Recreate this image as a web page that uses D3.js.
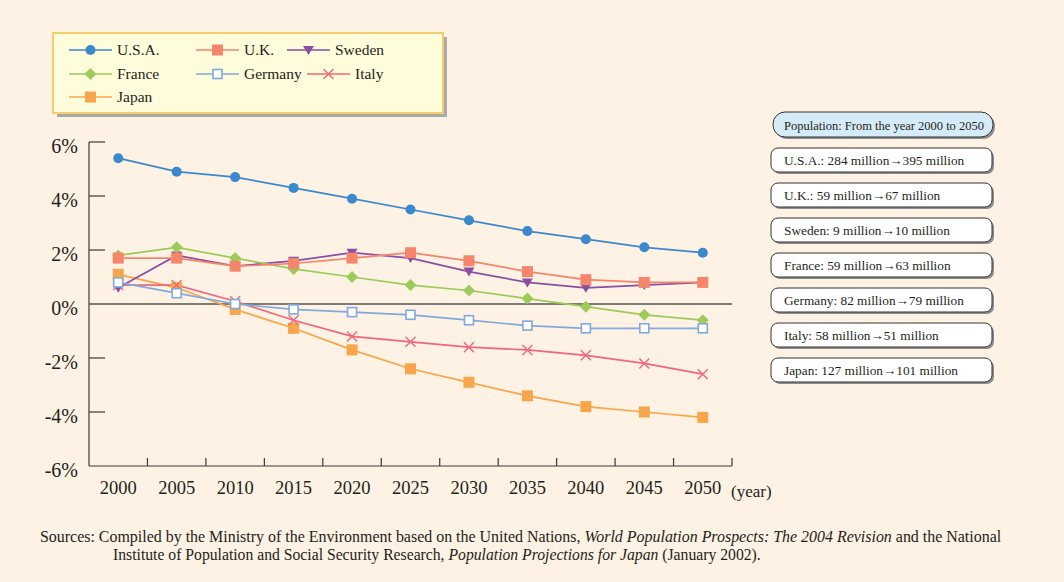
<!DOCTYPE html>
<html>
<head>
<meta charset="utf-8">
<script src="https://cdn.jsdelivr.net/npm/d3@7"></script>
<style>
  html, body { margin: 0; padding: 0; background: #fdf2e3; }
  svg { display: block; font-family: "Liberation Serif", "Times New Roman", serif; }
</style>
</head>
<body>
<svg id="chart" width="1064" height="582"></svg>
<script>
const years = [2000, 2005, 2010, 2015, 2020, 2025, 2030, 2035, 2040, 2045, 2050]
const yTicks = [-6, -4, -2, 0, 2, 4, 6]

const usa = [5.4, 4.9, 4.7, 4.3, 3.9, 3.5, 3.1, 2.7, 2.4, 2.1, 1.9]
const uk = [1.7, 1.7, 1.4, 1.5, 1.7, 1.9, 1.6, 1.2, 0.9, 0.8, 0.8]
const sweden = [0.6, 1.8, 1.4, 1.6, 1.9, 1.7, 1.2, 0.8, 0.6, 0.7, 0.8]
const france = [1.8, 2.1, 1.7, 1.3, 1.0, 0.7, 0.5, 0.2, -0.1, -0.4, -0.6]
const germany = [0.8, 0.4, 0.0, -0.2, -0.3, -0.4, -0.6, -0.8, -0.9, -0.9, -0.9]
const italy = [0.7, 0.7, 0.1, -0.6, -1.2, -1.4, -1.6, -1.7, -1.9, -2.2, -2.6]
const japan = [1.1, 0.6, -0.2, -0.9, -1.7, -2.4, -2.9, -3.4, -3.8, -4.0, -4.2]

const popTitle = 'Population: From the year 2000 to 2050'
const popNotes = [
    'U.S.A.: 284 million\u2192395 million',
    'U.K.: 59 million\u219267 million',
    'Sweden: 9 million\u219210 million',
    'France: 59 million\u219263 million',
    'Germany: 82 million\u219279 million',
    'Italy: 58 million\u219251 million',
    'Japan: 127 million\u2192101 million'
]

const series = [
    { name: 'Japan', values: japan, color: '#f8a64c', marker: 'square' },
    { name: 'Italy', values: italy, color: '#f0677c', marker: 'cross' },
    { name: 'Sweden', values: sweden, color: '#8a4ea3', marker: 'tri' },
    { name: 'France', values: france, color: '#9ccb5c', marker: 'diamond' },
    { name: 'U.K.', values: uk, color: '#f5856b', marker: 'square' },
    { name: 'Germany', values: germany, color: '#80aadd', marker: 'open' },
    { name: 'U.S.A.', values: usa, color: '#3b88cd', marker: 'circle' }
]

const svg = d3.select('#chart')

const plotLeft = 89, plotRight = 732, plotTop = 142, plotBottom = 466

const x = d3.scalePoint().domain(years).range([plotLeft, plotRight]).padding(0.5)
const xb = d3.scaleBand().domain(years).range([plotLeft, plotRight])
const y = d3.scaleLinear().domain([-6, 6]).range([plotBottom, plotTop])

// markers
function drawMarker(g, type, color) {
    if (type === 'circle') {
        g.append('circle').attr('r', 5).attr('fill', color)
    } else if (type === 'square') {
        g.append('rect').attr('x', -5.5).attr('y', -5.5).attr('width', 11).attr('height', 11).attr('fill', color)
    } else if (type === 'open') {
        g.append('rect').attr('x', -4.5).attr('y', -4.5).attr('width', 9).attr('height', 9)
            .attr('fill', '#fff').attr('stroke', color).attr('stroke-width', 1.6)
    } else if (type === 'diamond') {
        g.append('path').attr('d', 'M0,-6L6,0L0,6L-6,0Z').attr('fill', color)
    } else if (type === 'tri') {
        g.append('path').attr('d', 'M-5.5,-4L5.5,-4L0,5Z').attr('fill', color)
    } else if (type === 'cross') {
        g.append('path').attr('d', 'M-5,-5L5,5M-5,5L5,-5').attr('stroke', color).attr('stroke-width', 1.4)
    }
}

// axes
const axisG = svg.append('g').attr('stroke', '#3a3a3a').attr('stroke-width', 1.2)
axisG.append('line').attr('x1', plotLeft).attr('x2', plotLeft).attr('y1', plotTop).attr('y2', plotBottom)
axisG.append('line').attr('x1', plotLeft).attr('x2', plotRight).attr('y1', plotBottom).attr('y2', plotBottom)

axisG.selectAll('.yt')
    .data(yTicks.filter((d) => d !== 0 && d !== -6))
    .join('line')
    .attr('x1', plotLeft).attr('x2', plotLeft + 16)
    .attr('y1', (d) => y(d)).attr('y2', (d) => y(d))

axisG.selectAll('.xt')
    .data(years.slice(1).map((d) => xb(d)).concat([plotRight]))
    .join('line')
    .attr('x1', (d) => d).attr('x2', (d) => d)
    .attr('y1', plotBottom).attr('y2', plotBottom - 8)

svg.append('line')
    .attr('x1', plotLeft).attr('x2', plotRight)
    .attr('y1', y(0)).attr('y2', y(0))
    .attr('stroke', '#555').attr('stroke-width', 1.5)

svg.append('g')
    .selectAll('text')
    .data(yTicks)
    .join('text')
    .attr('x', 78)
    .attr('y', (d) => y(d) + 11)
    .attr('text-anchor', 'end')
    .attr('font-size', 20)
    .attr('fill', '#231f20')
    .text((d) => d + '%')

svg.append('g')
    .selectAll('text')
    .data(years)
    .join('text')
    .attr('x', (d) => x(d))
    .attr('y', 494)
    .attr('text-anchor', 'middle')
    .attr('font-size', 18.5)
    .attr('fill', '#231f20')
    .text((d) => d)

svg.append('text')
    .attr('x', 731).attr('y', 497)
    .attr('font-size', 17)
    .attr('fill', '#231f20')
    .text('(year)')

// lines
const line = d3.line().x((d, i) => x(years[i])).y((d) => y(d))

series.forEach((s) => {
    svg.append('path')
        .attr('d', line(s.values))
        .attr('fill', 'none')
        .attr('stroke', s.color)
        .attr('stroke-width', 1.7)
})
series.forEach((s) => {
    s.values.forEach((v, i) => {
        const g = svg.append('g').attr('transform', `translate(${x(years[i])},${y(v)})`)
        drawMarker(g, s.marker, s.color)
    })
})

// legend
svg.append('rect').attr('x', 57).attr('y', 37).attr('width', 390).attr('height', 80).attr('fill', '#a9aba9')
svg.append('rect').attr('x', 53).attr('y', 33).attr('width', 390).attr('height', 80)
    .attr('fill', '#fffcdb').attr('stroke', '#f6cd6c').attr('stroke-width', 2)

const legendItems = [
    { name: 'U.S.A.', lx: 69, ty: 50 },
    { name: 'U.K.', lx: 196, ty: 50 },
    { name: 'Sweden', lx: 287, ty: 50 },
    { name: 'France', lx: 69, ty: 74 },
    { name: 'Germany', lx: 196, ty: 74 },
    { name: 'Italy', lx: 307, ty: 74 },
    { name: 'Japan', lx: 69, ty: 97 }
]
legendItems.forEach((it) => {
    const s = series.find((d) => d.name === it.name)
    const g = svg.append('g')
    g.append('line').attr('x1', it.lx).attr('x2', it.lx + 43)
        .attr('y1', it.ty).attr('y2', it.ty)
        .attr('stroke', s.color).attr('stroke-width', 1.6)
    const m = g.append('g').attr('transform', `translate(${it.lx + 21.5},${it.ty})`)
    drawMarker(m, s.marker, s.color)
    g.append('text').attr('x', it.lx + 48).attr('y', it.ty + 5)
        .attr('font-size', 15.5).attr('fill', '#231f20').text(it.name)
})

// population boxes
svg.append('rect').attr('x', 775).attr('y', 114).attr('width', 220).attr('height', 25)
    .attr('rx', 12).attr('fill', '#8e8e8e')
svg.append('rect').attr('x', 773).attr('y', 112).attr('width', 220).attr('height', 25)
    .attr('rx', 12).attr('fill', '#d5ecf8').attr('stroke', '#333').attr('stroke-width', 1)
svg.append('text').attr('x', 784).attr('y', 129.5).attr('font-size', 12.5)
    .attr('fill', '#231f20').text(popTitle)

const boxes = svg.append('g')
    .selectAll('g')
    .data(popNotes)
    .join('g')
    .attr('transform', (d, i) => `translate(771,${148 + i * 35})`)
boxes.append('rect').attr('x', 2).attr('y', 2).attr('width', 221).attr('height', 24)
    .attr('rx', 7).attr('fill', '#8e8e8e')
boxes.append('rect').attr('width', 221).attr('height', 24)
    .attr('rx', 7).attr('fill', '#fff').attr('stroke', '#333').attr('stroke-width', 1)
boxes.append('text').attr('x', 13).attr('y', 17).attr('font-size', 13.3)
    .attr('fill', '#231f20').text((d) => d)

// sources
const src1 = svg.append('text').attr('x', 40).attr('y', 542).attr('font-size', 15.95).attr('fill', '#231f20')
src1.append('tspan').text('Sources: Compiled by the Ministry of the Environment based on the United Nations, ')
src1.append('tspan').attr('font-style', 'italic').text('World Population Prospects: The 2004 Revision')
src1.append('tspan').text(' and the National')
const src2 = svg.append('text').attr('x', 113).attr('y', 560).attr('font-size', 15.7).attr('fill', '#231f20')
src2.append('tspan').text('Institute of Population and Social Security Research, ')
src2.append('tspan').attr('font-style', 'italic').text('Population Projections for Japan')
src2.append('tspan').text(' (January 2002).')
</script>
</body>
</html>
